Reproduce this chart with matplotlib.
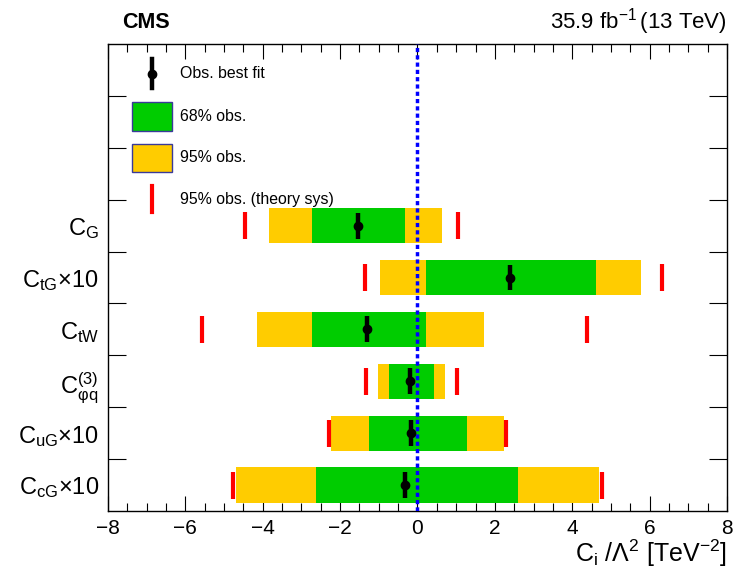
import matplotlib
matplotlib.use('Agg')
import matplotlib.pyplot as plt
import matplotlib.patches as patches
import numpy as np

plt.rcParams['font.family'] = ['Liberation Sans', 'DejaVu Sans']
plt.rcParams['mathtext.fontset'] = 'custom'
plt.rcParams['mathtext.rm'] = 'Liberation Sans'
plt.rcParams['mathtext.it'] = 'Liberation Sans'
plt.rcParams['mathtext.bf'] = 'Liberation Sans:bold'

# parameters, bottom to top
labels = [r'$\mathrm{C_{cG}}$×10', r'$\mathrm{C_{uG}}$×10', r'$\mathrm{C^{(3)}_{φq}}$',
          r'$\mathrm{C_{tW}}$', r'$\mathrm{C_{tG}}$×10', r'$\mathrm{C_{G}}$']
best_fit = [-0.32, -0.17, -0.19, -1.31, 2.40, -1.53]
lo68 = [-2.63, -1.25, -0.74, -2.73, 0.21, -2.74]
hi68 = [2.61, 1.27, 0.43, 0.21, 4.62, -0.33]
lo95 = [-4.69, -2.23, -1.02, -4.14, -0.98, -3.85]
hi95 = [4.68, 2.23, 0.70, 1.71, 5.78, 0.64]
theory_lo = [-4.77, -2.29, -1.32, -5.57, -1.35, -4.45]
theory_hi = [4.77, 2.30, 1.03, 4.37, 6.32, 1.04]

GREEN = '#00cc00'
YELLOW = '#ffcc00'
RED = '#ff0000'

fig = plt.figure(figsize=(7.47, 5.70), dpi=100)
ax = fig.add_axes([0.1446, 0.1035, 0.8286, 0.8193])

y = np.arange(len(labels)) + 0.5
lo95 = np.array(lo95); hi95 = np.array(hi95)
lo68 = np.array(lo68); hi68 = np.array(hi68)

ax.barh(y, hi95 - lo95, left=lo95, height=0.68, color=YELLOW, zorder=2)
ax.barh(y, hi68 - lo68, left=lo68, height=0.68, color=GREEN, zorder=3)
ax.vlines(theory_lo, y - 0.26, y + 0.26, color=RED, lw=3, zorder=3)
ax.vlines(theory_hi, y - 0.26, y + 0.26, color=RED, lw=3, zorder=3)
ax.axvline(0, color='#0000ff', lw=2.5, linestyle=(0, (1.2, 0.9)), zorder=5)
ax.errorbar(best_fit, y, yerr=0.25, fmt='o', color='black', ms=6,
            elinewidth=3.2, capsize=0, zorder=6)

ax.set_xlim(-8, 8)
ax.set_ylim(0, 9)

# x ticks
ax.set_xticks(np.arange(-8, 9, 2))
ax.set_xticklabels(['\u22128', '\u22126', '\u22124', '\u22122', '0', '2', '4', '6', '8'])
ax.set_xticks(np.arange(-8, 8.01, 0.5), minor=True)
ax.tick_params(axis='x', which='major', direction='in', length=11, width=0.8,
               top=True, labelsize=15, pad=6)
ax.tick_params(axis='x', which='minor', direction='in', length=5.5, width=0.8, top=True)

# y ticks: boundaries (ticks), centres (labels)
ax.set_yticks(np.arange(1, 9))
ax.set_yticklabels([])
ax.tick_params(axis='y', which='major', direction='in', length=13, width=0.8, right=True)
ax.set_yticks(y, minor=True)
ax.set_yticklabels(labels, minor=True)
ax.tick_params(axis='y', which='minor', length=0, labelsize=17, pad=6.5)

for s in ax.spines.values():
    s.set_linewidth(1.0)

fig.text(0.9732, 0.014, r'$\mathrm{C_{i}\ /\Lambda^{2}\ [TeV^{-2}]}$', fontsize=18,
         ha='right', va='baseline')

# legend
tr = ax.transAxes
ax.plot([0.071, 0.071], [0.905, 0.967], color='black', lw=3.2, transform=tr, zorder=6)
ax.plot([0.071], [0.936], 'o', color='black', ms=6, transform=tr, zorder=6)
ax.add_patch(patches.Rectangle((0.0388, 0.814), 0.0646, 0.062, transform=tr,
                               facecolor=GREEN, edgecolor='#3a3a9a', lw=1))
ax.add_patch(patches.Rectangle((0.0388, 0.726), 0.0646, 0.060, transform=tr,
                               facecolor=YELLOW, edgecolor='#3a3a9a', lw=1))
ax.plot([0.071, 0.071], [0.640, 0.696], color=RED, lw=3, transform=tr)
leg_text = ['Obs. best fit', '68% obs.', '95% obs.', '95% obs. (theory sys)']
for t, yy in zip(leg_text, [0.936, 0.844, 0.756, 0.668]):
    ax.text(0.1163, yy, t, transform=tr, ha='left', va='center', fontsize=11.4)

fig.text(0.163, 0.9605, 'CMS', fontsize=15.5, fontweight='bold', ha='left', va='center')
fig.text(0.973, 0.962, r'$\mathrm{35.9\ fb^{-1}\,(13\ TeV)}$', fontsize=16, ha='right', va='center')

fig.savefig('out.png', dpi=100)
